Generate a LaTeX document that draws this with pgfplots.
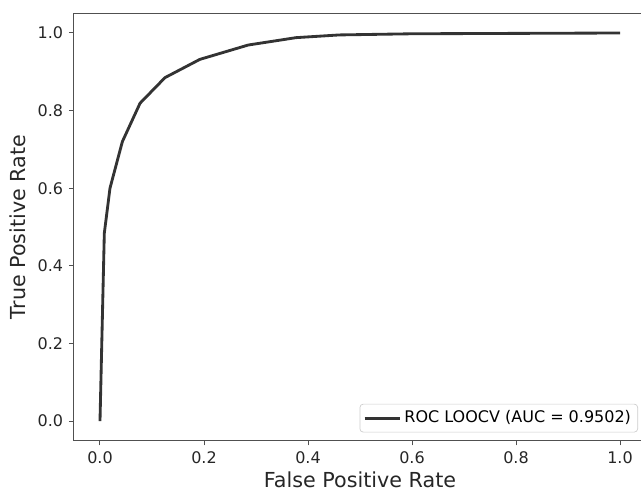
\documentclass[border=0pt]{standalone}
\usepackage{pgfplots}
\pgfplotsset{compat=1.18}
\usepackage{fontspec}
\setmainfont{DejaVu Sans}
\definecolor{curve}{HTML}{333333}
\definecolor{spine}{HTML}{505050}
\begin{document}
\begin{tikzpicture}
\begin{axis}[
    name=ax,
    scale only axis,
    width=343.2pt, height=256.1pt,
    xmin=-0.05, xmax=1.05,
    ymin=-0.05, ymax=1.05,
    xtick={0,0.2,0.4,0.6,0.8,1.0},
    ytick={0,0.2,0.4,0.6,0.8,1.0},
    /pgf/number format/.cd, fixed, fixed zerofill, precision=1, assume math mode=true,
    /pgfplots/.cd,
    tick align=outside, tick pos=left,
    major tick length=3pt,
    axis line style={spine, line width=0.6pt},
    tick style={spine, line width=0.6pt},
    tick label style={font=\fontsize{9.6}{11}\selectfont, text=black!85},
    label style={font=\fontsize{12.4}{14}\selectfont, text=black!85},
    xlabel style={yshift=2pt},
    xlabel={False Positive Rate},
    ylabel={True Positive Rate},
    legend style={at={(1,0)}, anchor=south east, xshift=-4.8pt, yshift=4.8pt,
        draw=black!20, rounded corners=2pt, font=\fontsize{9.6}{11}\selectfont,
        inner sep=2pt},
    legend cell align=left,
    legend image code/.code={\draw[#1] (0pt,0pt) -- (21pt,0pt);},
    legend image post style={curve, line width=1.7pt},
]
\addplot[curve, line width=1.7pt, line join=round] coordinates {
    (0,0) (0.0083,0.484) (0.0192,0.600) (0.043,0.720) (0.077,0.819)
    (0.125,0.885) (0.192,0.932) (0.285,0.969) (0.377,0.988) (0.460,0.995)
    (0.600,0.998) (1.0,1.0)
};
\addlegendentry{ROC LOOCV (AUC = 0.9502)}
\end{axis}
\pgfresetboundingbox
\path ([xshift=-44.4pt,yshift=-29.76pt]ax.south west) rectangle ([xshift=-3pt,yshift=8.16pt]ax.north east);
\end{tikzpicture}
\end{document}
